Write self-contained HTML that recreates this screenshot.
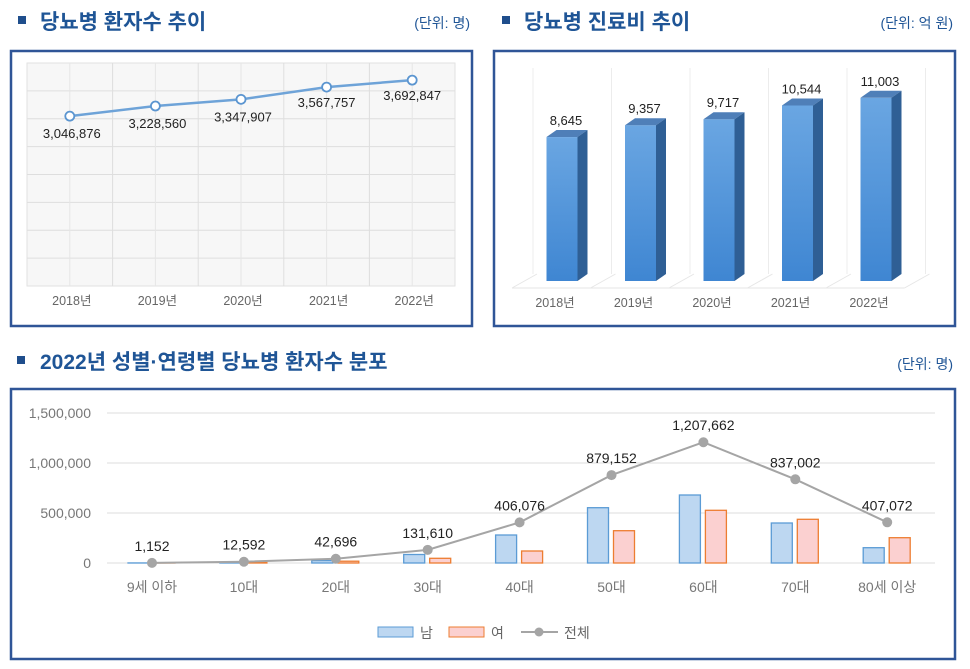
<!DOCTYPE html>
<html><head><meta charset="utf-8">
<style>
body{margin:0;width:970px;height:669px;background:#fff;overflow:hidden;font-family:"Liberation Sans","Noto Sans CJK KR",sans-serif}
svg{position:absolute;left:0;top:0}
</style></head><body>
<svg width="970" height="669" viewBox="0 0 970 669" font-family="Liberation Sans, Noto Sans CJK KR, sans-serif">
<defs>
<linearGradient id="bf" x1="0" y1="0" x2="0" y2="1"><stop offset="0" stop-color="#6aa6e2"/><stop offset="1" stop-color="#3f86d2"/></linearGradient>
</defs>
<!-- titles -->
<g>
<rect x="18" y="16" width="8" height="8" fill="#1f4e8c"/>
<text x="40" y="29" font-size="21" font-weight="bold" fill="#1f5596">당뇨병  환자수  추이</text>
<text x="470" y="28" font-size="14" fill="#1f5596" text-anchor="end">(단위: 명)</text>
</g>
<g>
<rect x="502" y="16" width="8" height="8" fill="#1f4e8c"/>
<text x="524" y="29" font-size="21" font-weight="bold" fill="#1f5596">당뇨병  진료비  추이</text>
<text x="953" y="28" font-size="14" fill="#1f5596" text-anchor="end">(단위: 억 원)</text>
</g>
<g>
<rect x="17" y="356" width="8" height="8" fill="#1f4e8c"/>
<text x="40" y="369" font-size="21" font-weight="bold" fill="#1f5596">2022년  성별·연령별  당뇨병  환자수  분포</text>
<text x="953" y="369" font-size="14" fill="#1f5596" text-anchor="end">(단위: 명)</text>
</g>
<!-- boxes -->
<rect x="11" y="51" width="461" height="275" fill="#fff" stroke="#2f5597" stroke-width="2.5"/>
<rect x="494" y="51" width="461" height="275" fill="#fff" stroke="#2f5597" stroke-width="2.5"/>
<rect x="11" y="389" width="944" height="270" fill="#fff" stroke="#2f5597" stroke-width="2.5"/>
<g id="c1"></g><g id="c2"></g><g id="c3"></g>
</svg>
<script>
const NS='http://www.w3.org/2000/svg';
function mk(p,t,a,txt){const e=document.createElementNS(NS,t);for(const k in a)e.setAttribute(k,a[k]);if(txt!==undefined)e.textContent=txt;p.appendChild(e);return e;}
// Chart 1 data
const years=['2018년','2019년','2020년','2021년','2022년'];
const patients=[3046876,3228560,3347907,3567757,3692847];
// Chart 2 data
const costs=[8645,9357,9717,10544,11003];
// Chart 3 data
const ages=['9세 이하','10대','20대','30대','40대','50대','60대','70대','80세 이상'];
const male=[600,7000,25000,85000,280000,553000,680000,400000,153000];
const female=[550,5500,18000,47000,120000,323000,527000,437000,253000];
const total=[1152,12592,42696,131610,406076,879152,1207662,837002,407072];
const yTicks=[0,500000,1000000,1500000];
const fmt=v=>v.toLocaleString('en-US');

// ---- Chart 1
(function(){
const g=document.getElementById('c1');
const L=27,R=455,T=63,B=286,max=4000000;
const x=i=>L+(R-L)/5*(i+0.5), y=v=>B-(B-T)*v/max;
mk(g,'rect',{x:L,y:T,width:R-L,height:B-T,fill:'#f7f7f7',stroke:'#e2e2e2'});
for(let k=1;k<8;k++)mk(g,'line',{x1:L,x2:R,y1:y(k*500000),y2:y(k*500000),stroke:'#dedede'});
for(let k=1;k<5;k++)mk(g,'line',{x1:L+(R-L)/5*k,x2:L+(R-L)/5*k,y1:T,y2:B,stroke:'#dedede'});
for(let i=0;i<5;i++)mk(g,'line',{x1:x(i),x2:x(i),y1:T,y2:B,stroke:'#e6e6e6'});
const pts=patients.map((v,i)=>x(i)+','+y(v)).join(' ');
const pl=mk(g,'polyline',{points:pts,fill:'none',stroke:'#6ea3d8','stroke-width':2.5});


patients.forEach((v,i)=>{
 const c=mk(g,'circle',{cx:x(i),cy:y(v),r:4.5,fill:'#fff',stroke:'#5b95d0','stroke-width':1.8});
 
 
 const t=mk(g,'text',{x:x(i)+(i>=3?0:2),y:y(v)+(i>=3?20:22),'font-size':13,'text-anchor':'middle',fill:'#222'},fmt(v));
 
 
});
years.forEach((s,i)=>{const t=mk(g,'text',{x:x(i)+2,y:305,'font-size':12.5,'text-anchor':'middle',fill:'#666'},s);
 
 });
})();

// ---- Chart 2
(function(){
const g=document.getElementById('c2');
const B=281,k=0.01665,x0=562,dx=78.5,w=31,d=10,h=7;
const cx=i=>x0+dx*i;
// back walls
for(let i=0;i<=5;i++){const xx=x0-39+dx*i+d;mk(g,'line',{x1:xx,x2:xx,y1:68,y2:B-h,stroke:'#ececec'});}
mk(g,'polyline',{points:`${x0-50},${B+7} ${x0-50+d*2.5},${B-h}`,fill:'none',stroke:'#e6e6e6'});
mk(g,'line',{x1:x0-50,x2:x0-50+dx*5,y1:B+7,y2:B+7,stroke:'#e6e6e6'});
for(let i=1;i<=5;i++){const xx=x0-50+dx*i;mk(g,'line',{x1:xx,x2:xx+d*2.5,y1:B+7,y2:B-h,stroke:'#e6e6e6'});}
costs.forEach((v,i)=>{
 const top=B-v*k,l=cx(i)-w/2;
 const gg=mk(g,'g',{});
 
 
 mk(gg,'rect',{x:l,y:top,width:w,height:B-top,fill:'url(#bf)'});
 mk(gg,'polygon',{points:`${l},${top} ${l+d},${top-h} ${l+w+d},${top-h} ${l+w},${top}`,fill:'#4f7fb8'});
 mk(gg,'polygon',{points:`${l+w},${top} ${l+w+d},${top-h} ${l+w+d},${B-h} ${l+w},${B}`,fill:'#2f5f95'});
 const t=mk(g,'text',{x:cx(i)+4,y:top-12,'font-size':13,'text-anchor':'middle',fill:'#222'},fmt(v));
 
 
 const t2=mk(g,'text',{x:cx(i)-7,y:307,'font-size':12.5,'text-anchor':'middle',fill:'#666'},years[i]);
 
 
});
})();

// ---- Chart 3
(function(){
const g=document.getElementById('c3');
const L=107,R=935,B=563,ppu=100/1000000,x0=152,dx=91.9;
const y=v=>B-v*ppu,x=i=>x0+dx*i;
yTicks.forEach(v=>{
 mk(g,'line',{x1:L,x2:R,y1:y(v),y2:y(v),stroke:'#dcdcdc'});
 const t=mk(g,'text',{x:91,y:y(v)+5,'font-size':14,'text-anchor':'end',fill:'#777'},fmt(v));
 
 
});
ages.forEach((a,i)=>{
 const bm=mk(g,'rect',{x:x(i)-24,y:y(male[i]),width:21,height:B-y(male[i]),fill:'#bdd7f1',stroke:'#5b9bd5','stroke-width':1.3});
 
 
 const bf=mk(g,'rect',{x:x(i)+2,y:y(female[i]),width:21,height:B-y(female[i]),fill:'#fbd0d0',stroke:'#ed7d31','stroke-width':1.3});
 
 
 const t=mk(g,'text',{x:x(i),y:592,'font-size':14,'text-anchor':'middle',fill:'#777'},a);
 
 
});
const pl=mk(g,'polyline',{points:total.map((v,i)=>x(i)+','+y(v)).join(' '),fill:'none',stroke:'#a5a5a5','stroke-width':2});


total.forEach((v,i)=>{
 const c=mk(g,'circle',{cx:x(i),cy:y(v),r:5,fill:'#a5a5a5'});
 
 
 const t=mk(g,'text',{x:x(i),y:y(v)-12,'font-size':14,'text-anchor':'middle',fill:'#222'},fmt(v));
 
 
});
const lg=mk(g,'g',{});


mk(lg,'rect',{x:378,y:627,width:35,height:10,fill:'#bdd7f1',stroke:'#5b9bd5'});
mk(lg,'text',{x:420,y:638,'font-size':14,fill:'#666'},'남');
mk(lg,'rect',{x:449,y:627,width:35,height:10,fill:'#fbd0d0',stroke:'#ed7d31'});
mk(lg,'text',{x:491,y:638,'font-size':14,fill:'#666'},'여');
mk(lg,'line',{x1:521,x2:558,y1:632,y2:632,stroke:'#a5a5a5','stroke-width':2});
mk(lg,'circle',{cx:539,cy:632,r:4.5,fill:'#a5a5a5'});
mk(lg,'text',{x:564,y:638,'font-size':14,fill:'#666'},'전체');
})();
</script>
</body></html>
